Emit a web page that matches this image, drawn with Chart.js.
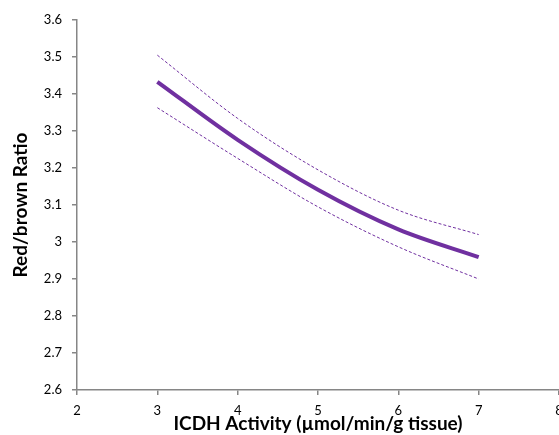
<!DOCTYPE html>
<html>
<head>
<meta charset="utf-8">
<script src="https://cdn.jsdelivr.net/npm/chart.js@4"></script>
<style>
  html, body { margin: 0; padding: 0; background: #fff; }
  #wrap { width: 559px; height: 435px; }
</style>
</head>
<body>
<div id="wrap"><canvas id="chart" width="559" height="435"></canvas></div>
<script>
// values
const activity = [3, 4, 5, 6, 7];
const ratioFit = [3.433, 3.276, 3.141, 3.034, 2.959];
const ratioUpper = [3.505, 3.334, 3.195, 3.086, 3.020];
const ratioLower = [3.363, 3.226, 3.095, 2.987, 2.900];
const xTicks = [2, 3, 4, 5, 6, 7, 8];
const yTicks = [2.6, 2.7, 2.8, 2.9, 3, 3.1, 3.2, 3.3, 3.4, 3.5, 3.6];

const purple = '#7030A0';
const axisGrey = '#868686';
const fontFamily = 'Lato, "Open Sans", sans-serif';

function points(ys) {
  return activity.map((x, i) => ({ x: x, y: ys[i] }));
}

const ctx = document.getElementById('chart').getContext('2d');
new Chart(ctx, {
  type: 'line',
  data: {
    datasets: [
      {
        label: 'Upper',
        data: points(ratioUpper),
        borderColor: purple,
        borderWidth: 1,
        borderDash: [3, 2],
        pointRadius: 0,
        cubicInterpolationMode: 'monotone',
        fill: false
      },
      {
        label: 'Fit',
        data: points(ratioFit),
        borderColor: purple,
        borderWidth: 4,
        pointRadius: 0,
        cubicInterpolationMode: 'monotone',
        fill: false
      },
      {
        label: 'Lower',
        data: points(ratioLower),
        borderColor: purple,
        borderWidth: 1,
        borderDash: [3, 2],
        pointRadius: 0,
        cubicInterpolationMode: 'monotone',
        fill: false
      }
    ]
  },
  options: {
    responsive: false,
    animation: false,
    layout: { padding: { top: 20, right: 0, bottom: 0, left: 0 } },
    plugins: {
      legend: { display: false },
      tooltip: { enabled: false }
    },
    scales: {
      x: {
        type: 'linear',
        min: xTicks[0],
        max: xTicks[xTicks.length - 1],
        afterBuildTicks: s => { s.ticks = xTicks.map(v => ({ value: v })); },
        afterFit: s => { s.height = 45; s.paddingLeft = 0; s.paddingRight = 0; },
        border: { color: axisGrey, width: 1.5 },
        grid: { drawOnChartArea: false, drawTicks: true, tickLength: 5, color: axisGrey, lineWidth: 1.5 },
        ticks: { color: '#000', padding: 8, maxRotation: 0, font: { family: fontFamily, size: 13 } },
        title: {
          display: true,
          text: 'ICDH Activity (µmol/min/g tissue)',
          color: '#000',
          padding: { top: 0, bottom: 0 },
          font: { family: fontFamily, size: 19, weight: 'bold' }
        }
      },
      y: {
        min: yTicks[0],
        max: yTicks[yTicks.length - 1],
        afterBuildTicks: s => { s.ticks = yTicks.map(v => ({ value: v })); },
        afterFit: s => { s.width = 77; s.paddingTop = 0; s.paddingBottom = 0; },
        border: { color: axisGrey, width: 1.5 },
        grid: { drawOnChartArea: false, drawTicks: true, tickLength: 5, color: axisGrey, lineWidth: 1.5 },
        ticks: {
          color: '#000',
          padding: 10,
          font: { family: fontFamily, size: 13 },
          callback: v => String(Number(v.toFixed(1)))
        },
        title: {
          display: true,
          text: 'Red/brown Ratio',
          color: '#000',
          padding: { top: 9, bottom: 0 },
          font: { family: fontFamily, size: 19, weight: 'bold' }
        }
      }
    }
  }
});
</script>
</body>
</html>
